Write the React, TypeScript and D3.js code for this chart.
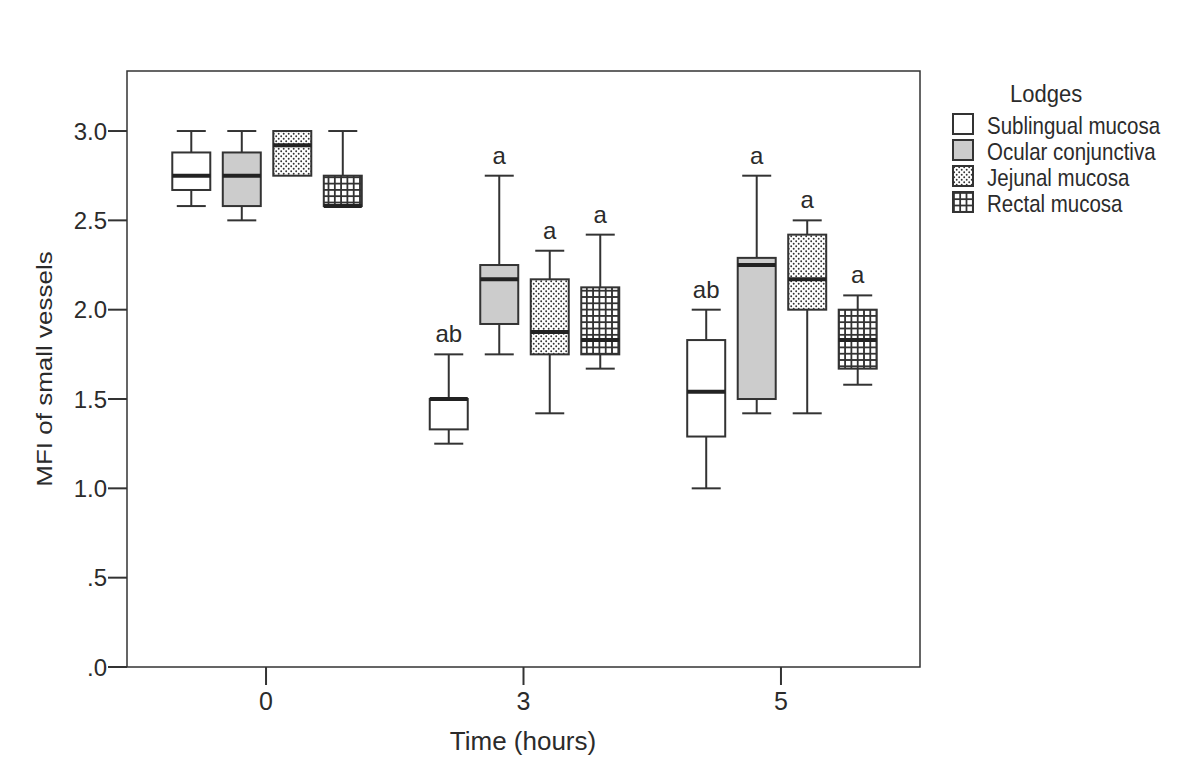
import React from "react";
import * as d3 from "d3";

const times = ["0", "3", "5"];
const lodges = ["Sublingual mucosa", "Ocular conjunctiva", "Jejunal mucosa", "Rectal mucosa"];
// [min, q1, median, q3, max] per lodge, per time
const sublingual = [
  [2.58, 2.67, 2.75, 2.88, 3.0],
  [1.25, 1.33, 1.5, 1.5, 1.75],
  [1.0, 1.29, 1.54, 1.83, 2.0],
];
const ocular = [
  [2.5, 2.58, 2.75, 2.88, 3.0],
  [1.75, 1.92, 2.17, 2.25, 2.75],
  [1.42, 1.5, 2.25, 2.29, 2.75],
];
const jejunal = [
  [2.75, 2.75, 2.92, 3.0, 3.0],
  [1.42, 1.75, 1.875, 2.17, 2.33],
  [1.42, 2.0, 2.17, 2.42, 2.5],
];
const rectal = [
  [2.58, 2.58, 2.58, 2.75, 3.0],
  [1.67, 1.75, 1.83, 2.125, 2.42],
  [1.58, 1.67, 1.83, 2.0, 2.08],
];
const letters = [
  ["", "", "", ""],
  ["ab", "a", "a", "a"],
  ["ab", "a", "a", "a"],
];
const yTicks = [0, 0.5, 1.0, 1.5, 2.0, 2.5, 3.0];
const yTickLabels = [".0", ".5", "1.0", "1.5", "2.0", "2.5", "3.0"];

const series = [sublingual, ocular, jejunal, rectal];
const fills = ["#ffffff", "#cccccc", "url(#dots)", "url(#grid)"];

export default function App() {
  const W = 1200, H = 778;
  const left = 127, right = 920, top = 71, bottom = 667;
  const y = d3.scaleLinear().domain([0, 3.336]).range([bottom, top]);
  const x = d3.scalePoint<string>().domain(times).range([left, right]).padding(0.54);
  const sub = d3.scaleBand<number>().domain([0, 1, 2, 3]).range([-100, 102]).paddingInner(0);
  const boxW = 38;
  const stroke = "#333";
  const text = "#2b2b2b";
  const font = "'Liberation Sans', Arial, sans-serif";

  return (
    <svg width={W} height={H} style={{ position: "absolute", left: 0, top: 0, background: "#fff" }}>
      <defs>
        <pattern id="dots" patternUnits="userSpaceOnUse" width="5" height="5">
          <rect width="5" height="5" fill="#fff" />
          <circle cx="1.2" cy="1.2" r="0.95" fill="#333" />
          <circle cx="3.7" cy="3.7" r="0.95" fill="#333" />
        </pattern>
        <pattern id="grid" patternUnits="userSpaceOnUse" width="6.3" height="6.3">
          <rect width="6.3" height="6.3" fill="#333" />
          <rect x="1.8" y="1.8" width="4.5" height="4.5" fill="#fff" />
        </pattern>
      </defs>
      {/* frame */}
      <rect x={left} y={top} width={right - left} height={bottom - top} fill="none" stroke={stroke} strokeWidth={1.5} />
      {/* y axis */}
      {yTicks.map((t, i) => (
        <g key={t}>
          <line x1={left - 19} x2={left} y1={y(t)} y2={y(t)} stroke={stroke} strokeWidth={2} />
          <text x={left - 20} y={y(t)} dy="0.36em" textAnchor="end" fontFamily={font} fontSize={24} fill={text}>
            {yTickLabels[i]}
          </text>
        </g>
      ))}
      {/* x axis */}
      {times.map((t) => (
        <g key={t}>
          <line x1={x(t)!} x2={x(t)!} y1={bottom} y2={bottom + 18} stroke={stroke} strokeWidth={2} />
          <text x={x(t)!} y={710} textAnchor="middle" fontFamily={font} fontSize={25} fill={text}>
            {t}
          </text>
        </g>
      ))}
      <text x={523} y={750} textAnchor="middle" fontFamily={font} fontSize={26} fill={text}>
        Time (hours)
      </text>
      <text
        transform={`translate(52, 369) rotate(-90) scale(1, 0.85)`}
        textAnchor="middle"
        fontFamily={font}
        fontSize={26}
        fill={text}
      >
        MFI of small vessels
      </text>
      {/* boxes */}
      {times.map((t, ti) =>
        series.map((s, si) => {
          const [mn, q1, md, q3, mx] = s[ti];
          const cx = x(t)! + sub(si)! + sub.bandwidth() / 2;
          const cap = 29;
          return (
            <g key={`${ti}-${si}`}>
              {mx > q3 && (
                <>
                  <line x1={cx} x2={cx} y1={y(mx)} y2={y(q3)} stroke={stroke} strokeWidth={2} />
                  <line x1={cx - cap / 2} x2={cx + cap / 2} y1={y(mx)} y2={y(mx)} stroke={stroke} strokeWidth={2} />
                </>
              )}
              {mn < q1 && (
                <>
                  <line x1={cx} x2={cx} y1={y(q1)} y2={y(mn)} stroke={stroke} strokeWidth={2} />
                  <line x1={cx - cap / 2} x2={cx + cap / 2} y1={y(mn)} y2={y(mn)} stroke={stroke} strokeWidth={2} />
                </>
              )}
              <rect
                x={cx - boxW / 2}
                y={y(q3)}
                width={boxW}
                height={y(q1) - y(q3)}
                fill={fills[si]}
                stroke={stroke}
                strokeWidth={2}
              />
              <line x1={cx - boxW / 2} x2={cx + boxW / 2} y1={y(md)} y2={y(md)} stroke="#222" strokeWidth={4} />
              {letters[ti][si] && (
                <text x={cx} y={y(mx) - 12} textAnchor="middle" fontFamily={font} fontSize={24} fill={text}>
                  {letters[ti][si]}
                </text>
              )}
            </g>
          );
        })
      )}
      {/* legend */}
      <text transform="translate(1010, 102) scale(1, 1.1)" fontFamily={font} fontSize={22} fill={text}>
        Lodges
      </text>
      {lodges.map((l, i) => (
        <g key={l} transform={`translate(953, ${114 + i * 26})`}>
          <rect x={0} y={0} width={20} height={20} fill={fills[i]} stroke={stroke} strokeWidth={2} />
          <text transform="translate(34, 20) scale(1, 1.15)" fontFamily={font} fontSize={20.5} fill={text}>
            {l}
          </text>
        </g>
      ))}
    </svg>
  );
}
